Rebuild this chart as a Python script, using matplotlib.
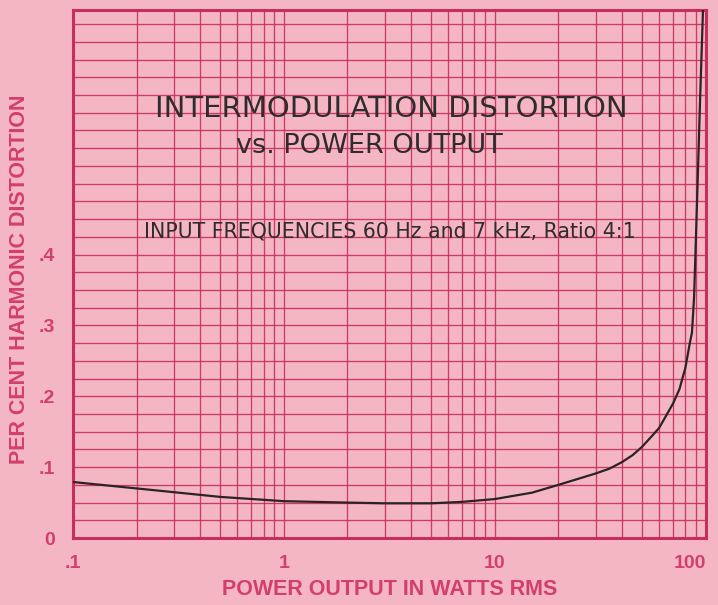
"""Intermodulation distortion vs. power output, redrawn on pink log graph paper."""

import matplotlib

matplotlib.use("Agg")
import matplotlib.pyplot as plt
import numpy as np

# --- Data ---
power_watts = [0.1, 0.2, 0.5, 1, 2, 3, 5, 7, 10, 15, 20, 30, 35, 40, 45, 50, 60,
               70, 75, 80, 84, 86, 88, 89.5, 91, 94, 97]
im_distortion = [0.079, 0.070, 0.058, 0.052, 0.050, 0.049, 0.049, 0.051, 0.055,
                 0.064, 0.075, 0.091, 0.098, 0.107, 0.117, 0.129, 0.155,
                 0.19, 0.21, 0.24, 0.275, 0.29, 0.34, 0.41, 0.48, 0.62, 0.745]

x_ticks = [0.1, 1, 10, 100]
x_tick_labels = [".1", "1", "10", "100"]
y_ticks = [0, 0.1, 0.2, 0.3, 0.4]
y_tick_labels = ["0", ".1", ".2", ".3", ".4"]

PAPER = "#F4B6C3"
GRID = "#C62F5B"
LABEL = "#D23F6A"
INK = "#2B2326"
TITLE_INK = "#312B2D"

plt.rcParams["font.family"] = ["Liberation Sans", "DejaVu Sans"]

fig = plt.figure(figsize=(7.18, 6.05), dpi=100, facecolor=PAPER)
ax = fig.add_axes([0.1017, 0.1107, 0.8813, 0.8728])
ax.set_facecolor(PAPER)

ax.set_xscale("log")
ax.set_xlim(0.1, 100)
ax.set_ylim(0, 0.745)

# graph-paper grid
ax.set_xticks(x_ticks)
ax.set_xticklabels(x_tick_labels)
ax.set_yticks(y_ticks)
ax.set_yticklabels(y_tick_labels)
ax.set_yticks(np.arange(0, 0.75, 0.025), minor=True)
ax.xaxis.set_minor_formatter(matplotlib.ticker.NullFormatter())
ax.grid(which="both", color=GRID, linewidth=0.95, alpha=0.9)
ax.tick_params(which="both", length=0)
ax.tick_params(axis="x", pad=12, labelsize=14, labelcolor=LABEL)
ax.tick_params(axis="y", pad=13, labelsize=14, labelcolor=LABEL)
for lbl in ax.get_xticklabels() + ax.get_yticklabels():
    lbl.set_fontweight("bold")
ax.get_xticklabels()[-1].set_horizontalalignment("right")

for side in ax.spines.values():
    side.set_color(GRID)
    side.set_linewidth(2.2)

ax.plot(power_watts, im_distortion, color=INK, linewidth=1.6, zorder=5,
        solid_capstyle="butt")

ax.set_xlabel("POWER OUTPUT IN WATTS RMS", fontsize=15.5, color=LABEL,
              fontweight="bold", labelpad=5)
ax.set_ylabel("PER CENT HARMONIC DISTORTION", fontsize=15.5, color=LABEL,
              fontweight="bold")
ax.yaxis.set_label_coords(-0.068, 0.49)

# titles sit on the paper inside the plot
ax.text(0.503, 0.8125, "INTERMODULATION DISTORTION", transform=ax.transAxes,
        ha="center", va="center", fontsize=21, color=TITLE_INK,
        family="DejaVu Sans")
ax.text(0.469, 0.742, "vs. POWER OUTPUT", transform=ax.transAxes,
        ha="center", va="center", fontsize=19.5, color=TITLE_INK,
        family="DejaVu Sans")
ax.text(0.5, 0.58, "INPUT FREQUENCIES 60 Hz and 7 kHz, Ratio 4:1",
        transform=ax.transAxes, ha="center", va="center", fontsize=14.8,
        color=TITLE_INK, family="DejaVu Sans")

fig.savefig("out.png", dpi=100, facecolor=PAPER)
